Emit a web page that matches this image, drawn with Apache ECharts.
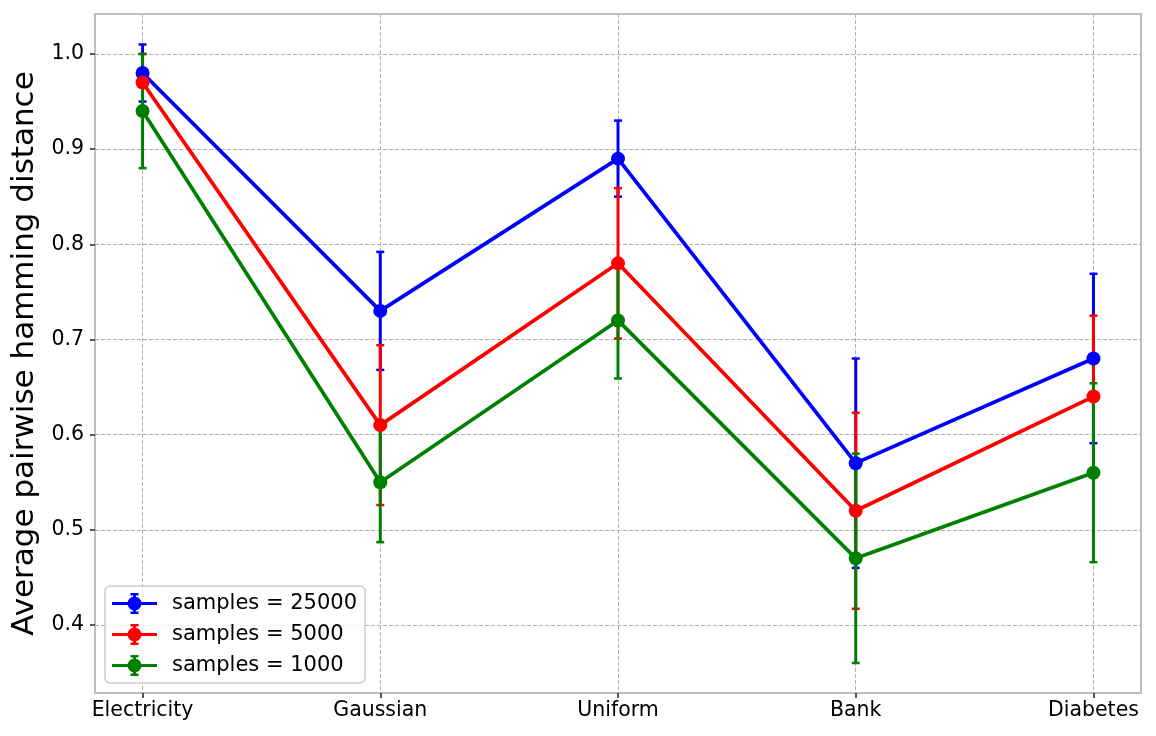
<!DOCTYPE html>
<html lang="en">
<head>
    <meta charset="UTF-8">
    <title>Average pairwise hamming distance</title>
    <style>
        body { margin: 0; background: #fff; }
    </style>
</head>
<body>
<div id="main" style="width: 1156px;height:736px;"></div>
<script src="https://cdn.jsdelivr.net/npm/echarts/dist/echarts.min.js"></script>
<script type="text/javascript">
    // data
    var categories = ["Electricity", "Gaussian", "Uniform", "Bank", "Diabetes"];
    var xTicks = [0, 1, 2, 3, 4];
    var yTicks = [0.4, 0.5, 0.6, 0.7, 0.8, 0.9, 1.0];
    var seriesNames = ["samples = 25000", "samples = 5000", "samples = 1000"];

    var mean25000 = [0.98, 0.73, 0.89, 0.57, 0.68];
    var err25000 = [0.03, 0.062, 0.04, 0.11, 0.089];
    var mean5000 = [0.97, 0.61, 0.78, 0.52, 0.64];
    var err5000 = [0.03, 0.084, 0.079, 0.103, 0.085];
    var mean1000 = [0.94, 0.55, 0.72, 0.47, 0.56];
    var err1000 = [0.06, 0.063, 0.061, 0.11, 0.094];

    var colors = ["#0000ff", "#ff0000", "#008000"];
    var font = "DejaVu Sans";

    // legend handle: line + marker + error bar with caps
    var errIcon = "path://M0 9L45 9L45 12L0 12Z" +
        "M21 0L24 0L24 21L21 21Z" +
        "M18.5 0L26.5 0L26.5 2.5L18.5 2.5Z" +
        "M18.5 18.5L26.5 18.5L26.5 21L18.5 21Z" +
        "M15.5 10.5A7 7 0 1 1 29.5 10.5A7 7 0 1 1 15.5 10.5Z";

    var myChart = echarts.init(document.getElementById("main"));

    function errorSeries(name, color, mean, err) {
        var data = mean.map(function (v, i) {
            return [i, v - err[i], v + err[i]];
        });
        return {
            name: name + " err",
            type: "custom",
            data: data,
            encode: {x: 0, y: [1, 2]},
            renderItem: function (params, api) {
                var x = api.value(0);
                var top = api.coord([x, api.value(2)]);
                var bot = api.coord([x, api.value(1)]);
                var hw = 4;
                return {
                    type: "group",
                    children: [
                        {type: "line", shape: {x1: top[0], y1: top[1], x2: bot[0], y2: bot[1]},
                            style: {stroke: color, lineWidth: 3}},
                        {type: "line", shape: {x1: top[0] - hw, y1: top[1], x2: top[0] + hw, y2: top[1]},
                            style: {stroke: color, lineWidth: 2.5}},
                        {type: "line", shape: {x1: bot[0] - hw, y1: bot[1], x2: bot[0] + hw, y2: bot[1]},
                            style: {stroke: color, lineWidth: 2.5}}
                    ]
                };
            }
        };
    }

    function lineSeries(name, color, mean) {
        return {
            name: name,
            type: "line",
            data: mean.map(function (v, i) { return [i, v]; }),
            symbol: "circle",
            symbolSize: 14,
            showSymbol: true,
            lineStyle: {color: color, width: 3.7},
            itemStyle: {color: color}
        };
    }

    var means = [mean25000, mean5000, mean1000];
    var errs = [err25000, err5000, err1000];
    var series = [];
    for (var k = 0; k < 3; k++) {
        series.push(errorSeries(seriesNames[k], colors[k], means[k], errs[k]));
        series.push(lineSeries(seriesNames[k], colors[k], means[k]));
    }

    var splitStyle = {
        show: true,
        lineStyle: {color: "#b0b0b0", width: 1, type: [4, 2]}
    };

    var option = {
        animation: false,
        backgroundColor: "#ffffff",
        textStyle: {fontFamily: font},
        grid: {
            left: 95, right: 15, top: 14, bottom: 43,
            show: true,
            borderColor: "#bfbfbf",
            borderWidth: 2,
            backgroundColor: "transparent"
        },
        legend: {
            orient: "vertical",
            left: 105,
            top: 586,
            padding: [7, 8, 7, 7],
            itemGap: 10,
            itemWidth: 45,
            itemHeight: 21,
            selectedMode: false,
            backgroundColor: "rgba(255,255,255,0.8)",
            borderColor: "#cccccc",
            borderWidth: 1.5,
            borderRadius: 5,
            textStyle: {fontSize: 21, color: "#000", fontFamily: font, padding: [0, 0, 0, 10]},
            data: seriesNames.map(function (n) { return {name: n, icon: errIcon}; })
        },
        xAxis: {
            type: "value",
            min: -0.2,
            max: 4.2,
            axisLine: {show: false, onZero: false},
            axisTick: {show: true, length: 5, customValues: xTicks,
                lineStyle: {color: "#222", width: 1.5}},
            axisLabel: {
                fontSize: 20.5, color: "#000", margin: 7, fontFamily: font,
                customValues: xTicks,
                formatter: function (v) { return categories[Math.round(v)]; }
            },
            splitLine: splitStyle
        },
        yAxis: {
            type: "value",
            min: 0.3285,
            max: 1.042,
            name: "Average pairwise hamming distance",
            nameLocation: "middle",
            nameGap: 49,
            nameTextStyle: {fontSize: 31, color: "#000", fontFamily: font},
            axisLine: {show: false, onZero: false},
            axisTick: {show: true, length: 5, customValues: yTicks,
                lineStyle: {color: "#222", width: 1.5}},
            axisLabel: {
                fontSize: 20.5, color: "#000", margin: 11, fontFamily: font,
                customValues: yTicks,
                formatter: function (v) { return v.toFixed(1); }
            },
            splitLine: splitStyle
        },
        series: series
    };

    myChart.setOption(option);
</script>
</body>
</html>
